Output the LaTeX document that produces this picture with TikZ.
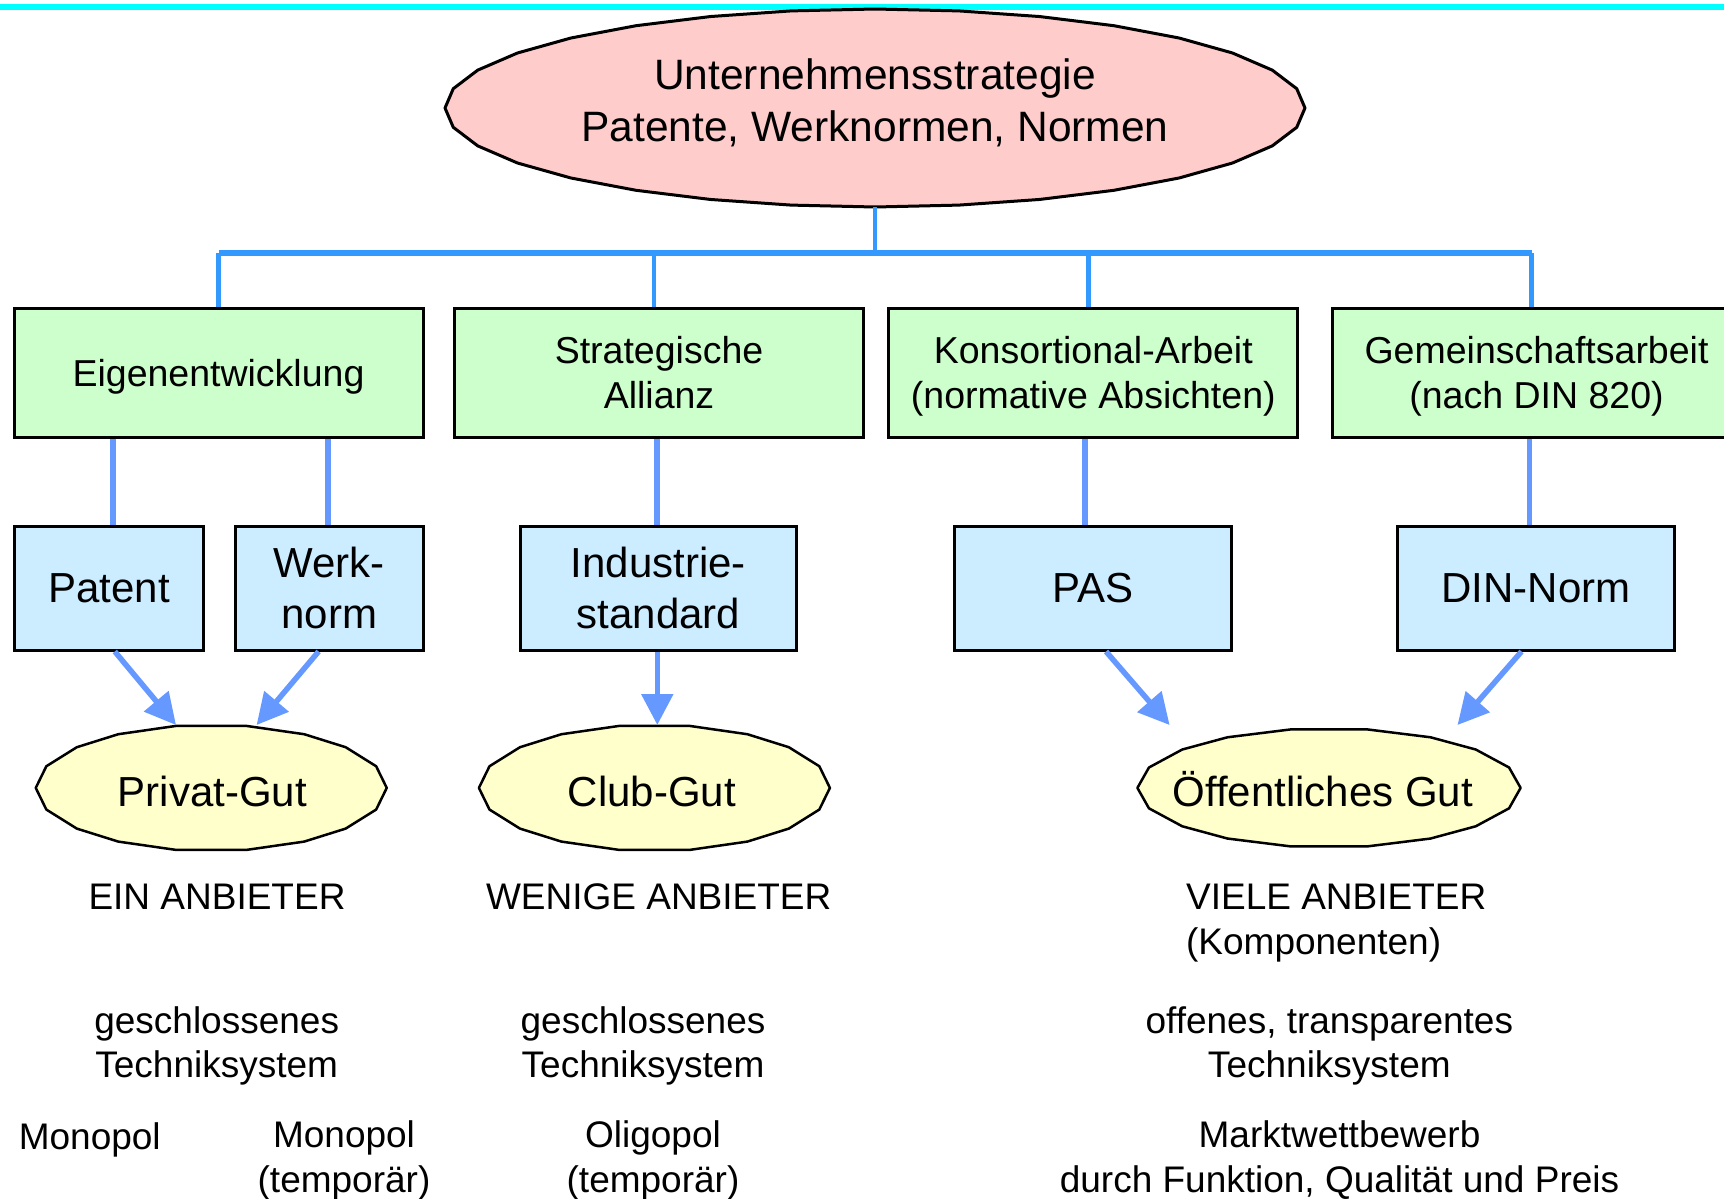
\documentclass[tikz,border=0pt]{standalone}
\usepackage{fontspec}
\setmainfont{Liberation Sans}
\usetikzlibrary{arrows.meta}
\definecolor{topblue}{HTML}{3399FF}
\definecolor{lowblue}{HTML}{6699FF}
\definecolor{pinkfill}{HTML}{FFCCCC}
\definecolor{greenfill}{HTML}{CCFFCC}
\definecolor{bluefill}{HTML}{CCECFF}
\definecolor{yellowfill}{HTML}{FFFFCC}
\definecolor{cyanline}{HTML}{00FFFF}
\begin{document}
\begin{tikzpicture}[x=0.5pt,y=-0.5pt,
  greenbox/.style={draw=black, line width=1.5pt, fill=greenfill, minimum width=204.5pt, minimum height=64.5pt, inner sep=0pt, text depth=0pt, align=center, font=\fontsize{18.75}{22.5}\selectfont},
  bluebox/.style={draw=black, line width=1.5pt, fill=bluefill, minimum height=62pt, inner sep=0pt, align=center, font=\fontsize{21}{25.8}\selectfont},
  stemline/.style={topblue, line width=1.75pt},
  barline/.style={topblue, line width=3pt},
  dropline/.style={topblue, line width=2.25pt},
  lowline/.style={lowblue, line width=2.75pt},
  arr/.style={lowline, -{Triangle[length=15.5pt,width=15.5pt]}},
  lbl/.style={inner sep=0pt, anchor=base, align=center, font=\fontsize{18.5}{22.25}\selectfont},
  elltext/.style={inner sep=0pt, anchor=base, align=center, font=\fontsize{21}{26}\selectfont},
  toptext/.style={inner sep=0pt, anchor=base, align=center, font=\fontsize{21.25}{26.2}\selectfont},
  bigpoly/.style={draw=black, line width=1.5pt, line join=round, fill=pinkfill},
  smallpoly/.style={draw=black, line width=1.25pt, line join=round, fill=yellowfill}
]
\useasboundingbox (0,0) rectangle (1724,1199);
\clip (0,0) rectangle (1724,1199);
\fill[white] (0,0) rectangle (1724,1199);

% top cyan rule
\draw[cyanline, line width=3pt] (0,7) -- (1724,7);

% top ellipse (polygonal)
\draw[bigpoly] plot[domain=0:360, samples=33] ({875+430*cos(\x)},{108+99*sin(\x)}) -- cycle;
\node[toptext] (top) at (875,141.7) {Unternehmensstrategie\\Patente, Werknormen, Normen};

% lower ellipses (polygonal)
\draw[smallpoly] plot[samples at={0,20,40,58,78.5,101.5,122,140,160,180,200,220,238,258.5,281.5,302,320,340}] ({211.25+175.5*cos(\x)},{787.9+63.3*sin(\x)}) -- cycle;
\draw[smallpoly] plot[samples at={0,20,40,58,78.5,101.5,122,140,160,180,200,220,238,258.5,281.5,302,320,340}] ({654.4+175.5*cos(\x)},{787.9+63.3*sin(\x)}) -- cycle;
\draw[smallpoly] plot[samples at={0,20,40,58,78.5,101.5,122,140,160,180,200,220,238,258.5,281.5,302,320,340}] ({1329+191.6*cos(\x)},{787.9+59.7*sin(\x)}) -- cycle;
\node[elltext] (priv) at (212.4,806) {Privat-Gut};
\node[elltext] (club) at (651.8,806) {Club-Gut};
\node[elltext] (oeff) at (1322.6,806) {Öffentliches Gut};

% green boxes
\node[greenbox] (eig) at (218.5,372.5) {Eigenentwicklung};
\node[greenbox] (all) at (659,372.5) {Strategische\\Allianz};
\node[greenbox] (kon) at (1093.3,372.5) {Konsortional-Arbeit\\(normative Absichten)};
\node[greenbox] (gem) at (1536.5,372.5) {Gemeinschaftsarbeit\\(nach DIN 820)};

% blue boxes
\node[bluebox, minimum width=94.7pt] (pat) at (109,588) {Patent};
\node[bluebox, minimum width=93.8pt] (wer) at (329.2,588) {Werk-\\norm};
\node[bluebox, minimum width=138.4pt] (ind) at (658.4,588) {Industrie-\\standard};
\node[bluebox, minimum width=138.5pt] (pas) at (1093.4,588) {PAS};
\node[bluebox, minimum width=138.3pt] (din) at (1536,588) {DIN-Norm};

% tree from the top ellipse
\coordinate (topbot) at (875,207);
\coordinate (bar) at (875,253);
\draw[stemline] (topbot) -- (bar);
\draw[barline] (eig.north |- bar) -- ([xshift=-2.45pt]gem.north |- bar);
\draw[dropline] (eig.north |- bar) -- (eig.north);
\draw[dropline] ([xshift=-2.4pt]all.north |- bar) -- ([xshift=-2.4pt]all.north);
\draw[dropline] ([xshift=-2.4pt]kon.north |- bar) -- ([xshift=-2.4pt]kon.north);
\draw[dropline] ([xshift=-2.45pt]gem.north |- bar) -- ([xshift=-2.45pt]gem.north);

% green to blue
\draw[lowline] ([xshift=2pt]pat.north |- eig.south) -- ([xshift=2pt]pat.north);
\draw[lowline] ([xshift=-0.7pt]wer.north |- eig.south) -- ([xshift=-0.7pt]wer.north);
\draw[lowline] ([xshift=-0.7pt]ind.north |- all.south) -- ([xshift=-0.7pt]ind.north);
\draw[lowline] ([xshift=-4.2pt]pas.north |- kon.south) -- ([xshift=-4.2pt]pas.north);
\draw[lowline] ([xshift=-3.2pt]din.north |- gem.south) -- ([xshift=-3.2pt]din.north);

% arrows to the goods
\coordinate (privL) at (176,725);
\coordinate (privR) at (256.6,725);
\coordinate (clubT) at (657.3,725);
\coordinate (oeffL) at (1169.6,725);
\coordinate (oeffR) at (1457.5,725);
\draw[arr] ([xshift=2.9pt]pat.south) -- (privL);
\draw[arr] ([xshift=-5.3pt]wer.south) -- (privR);
\draw[arr] ([xshift=-0.55pt]ind.south) -- (clubT);
\draw[arr] ([xshift=6.3pt]pas.south) -- (oeffL);
\draw[arr] ([xshift=-7.25pt]din.south) -- (oeffR);

% labels (anchor at the baseline of the last line)
\node[lbl] (ein) at (217,909.6) {EIN ANBIETER};
\node[lbl] (wen) at (658.7,909.6) {WENIGE ANBIETER};
\node[lbl, anchor=base west, align=left] (vie) at (1185.7,954.3) {VIELE ANBIETER\\(Komponenten)};
\node[lbl] (ges1) at (216.7,1077.5) {geschlossenes\\Techniksystem};
\node[lbl] (ges2) at (643,1077.5) {geschlossenes\\Techniksystem};
\node[lbl] (offen) at (1329.3,1077.5) {offenes, transparentes\\Techniksystem};
\node[lbl, anchor=base west] (mono1) at (18.4,1149) {Monopol};
\node[lbl] (mono2) at (344,1192) {Monopol\\(temporär)};
\node[lbl] (oli) at (653,1192) {Oligopol\\(temporär)};
\node[lbl] (markt) at (1339.5,1192) {Marktwettbewerb\\durch Funktion, Qualität und Preis};
\end{tikzpicture}
\end{document}
